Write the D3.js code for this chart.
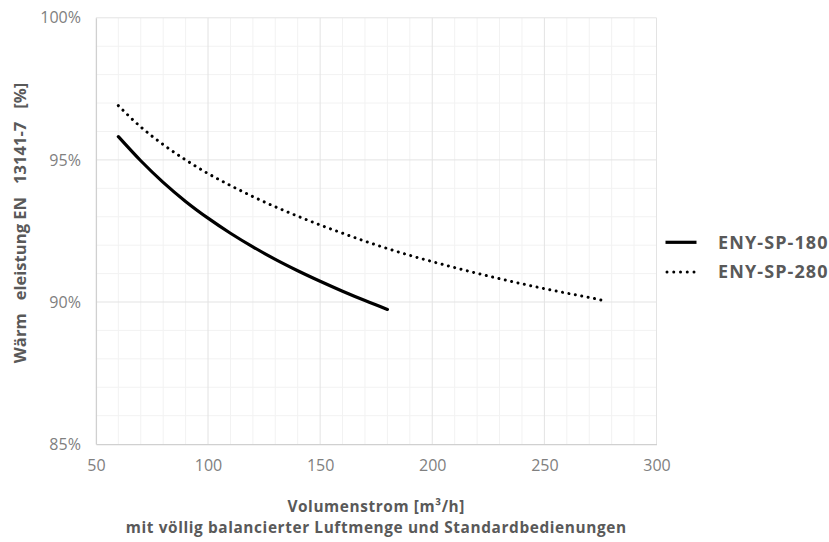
<!DOCTYPE html>
<html><head><meta charset="utf-8">
<script src="https://cdn.jsdelivr.net/npm/d3@7"></script>
<style>
html,body{margin:0;padding:0;background:#fff;}
svg{display:block;font-family:"Open Sans",sans-serif;}
</style></head>
<body>
<script>
const xTicks = [50, 100, 150, 200, 250, 300];
const yTicks = [0.85, 0.90, 0.95, 1.00];
const flowSP180 = [60, 70, 80, 90, 100, 110, 120, 130, 140, 150, 160, 170, 180];
const effSP180  = [0.9582, 0.9497, 0.9421, 0.9354, 0.9295, 0.9242, 0.9194, 0.9150, 0.9110, 0.9073, 0.9038, 0.9005, 0.8974];
const flowSP280 = [60, 70, 80, 90, 100, 110, 120, 130, 140, 150, 160, 170, 180, 190, 200, 210, 220, 230, 240, 250, 260, 270, 278];
const effSP280  = [0.9691, 0.9616, 0.9554, 0.9500, 0.9452, 0.9410, 0.9371, 0.9335, 0.9302, 0.9271, 0.9242, 0.9214, 0.9188, 0.9164, 0.9142, 0.9121, 0.9101, 0.9082, 0.9064, 0.9047, 0.9031, 0.9016, 0.9002];
const seriesNames = ["ENY-SP-180", "ENY-SP-280"];
const xTitle = "Volumenstrom [m³/h]";
const xSubtitle = "mit völlig balancierter Luftmenge und Standardbedienungen";
const yTitle = "Wärm   eleistung EN   13141-7   [%]";

const W = 829, H = 542;
const L = 95.9, R = 656.5, T = 17.8, B = 444.1;
const svg = d3.select("body").append("svg").attr("width", W).attr("height", H);

const x = d3.scaleLinear().domain([50, 300]).range([L, R]);
const y = d3.scaleLinear().domain([0.85, 1.00]).range([B, T]);

// minor gridlines
const g = svg.append("g");
g.selectAll(".vminor").data(d3.range(60, 300, 10).filter(v => v % 50 !== 0)).enter().append("line")
  .attr("x1", d => x(d)).attr("x2", d => x(d)).attr("y1", T).attr("y2", B)
  .attr("stroke", "#f2f2f2").attr("stroke-width", 1);
g.selectAll(".hminor").data(d3.range(86, 100, 1).filter(v => v % 5 !== 0).map(v => v / 100)).enter().append("line")
  .attr("y1", d => y(d)).attr("y2", d => y(d)).attr("x1", L).attr("x2", R)
  .attr("stroke", "#f2f2f2").attr("stroke-width", 1);
// major gridlines
g.selectAll(".vmajor").data(xTicks.slice(1)).enter().append("line")
  .attr("x1", d => x(d)).attr("x2", d => x(d)).attr("y1", T).attr("y2", B)
  .attr("stroke", "#e3e3e3").attr("stroke-width", 1);
g.selectAll(".hmajor").data(yTicks.slice(1)).enter().append("line")
  .attr("y1", d => y(d)).attr("y2", d => y(d)).attr("x1", L).attr("x2", R)
  .attr("stroke", "#e3e3e3").attr("stroke-width", 1);

// axes
const xAxis = d3.axisBottom(x).tickValues(xTicks).tickSize(0).tickPadding(16).tickFormat(d3.format("d"));
const yAxis = d3.axisLeft(y).tickValues(yTicks).tickSize(0).tickPadding(15).tickFormat(d3.format(".0%"));
const gx = svg.append("g").attr("transform", `translate(0,${B})`).call(xAxis);
const gy = svg.append("g").attr("transform", `translate(${L},0)`).call(yAxis);
[gx, gy].forEach(a => {
  a.select(".domain").attr("stroke", "#d0d0d0").attr("stroke-width", 1.3);
  a.selectAll("text").attr("font-family", "Open Sans").attr("font-size", 16).attr("fill", "#808080");
});

// lines
const line = d3.line().x(d => x(d[0])).y(d => y(d[1])).curve(d3.curveMonotoneX);
const d180 = flowSP180.map((f, i) => [f, effSP180[i]]);
const d280 = flowSP280.map((f, i) => [f, effSP280[i]]);
svg.append("path").datum(d180).attr("d", line).attr("fill", "none")
  .attr("stroke", "#000").attr("stroke-width", 3.2).attr("stroke-linecap", "round");
const p280 = svg.append("path").datum(d280).attr("d", line).attr("fill", "none")
  .attr("stroke", "#000").attr("stroke-width", 3).attr("stroke-linecap", "round");
const len = p280.node().getTotalLength();
const nDots = Math.round(len / 6.5);
p280.attr("stroke-dasharray", `0.02 ${(len / nDots - 0.02).toFixed(4)}`)
  .attr("stroke-dashoffset", 0.01);

// legend
const leg = svg.append("g");
const legY = [242.3, 272];
seriesNames.forEach((name, i) => {
  const ln = leg.append("line").attr("x1", 665.5).attr("x2", 696.5).attr("y1", legY[i]).attr("y2", legY[i])
    .attr("stroke", "#000").attr("stroke-width", i === 0 ? 3.2 : 3).attr("stroke-linecap", i === 0 ? "butt" : "round");
  if (i === 1) ln.attr("x1", 667).attr("x2", 694).attr("stroke-dasharray", "0.01 6.74");
  leg.append("text").attr("x", 718).attr("y", legY[i]).attr("dy", "0.35em")
    .attr("font-family", "Open Sans").attr("font-weight", "bold").attr("font-size", 18)
    .attr("letter-spacing", 1.1)
    .attr("fill", "#595959").text(name);
});

// titles
svg.append("text").attr("x", (L + R) / 2).attr("y", 511.5).attr("text-anchor", "middle")
  .attr("font-family", "Open Sans").attr("font-weight", "bold").attr("font-size", 15.4)
  .attr("letter-spacing", 0.6).attr("fill", "#595959").text(xTitle);
svg.append("text").attr("x", (L + R) / 2).attr("y", 533).attr("text-anchor", "middle")
  .attr("font-family", "Open Sans").attr("font-weight", "bold").attr("font-size", 15.4)
  .attr("letter-spacing", 0.6).attr("fill", "#595959").text(xSubtitle);
svg.append("text").attr("transform", `translate(26,223) rotate(-90)`).attr("text-anchor", "middle")
  .style("white-space", "pre")
  .attr("font-family", "Open Sans").attr("font-weight", "bold").attr("font-size", 16.6).attr("fill", "#595959").text(yTitle);
</script>
</body></html>
